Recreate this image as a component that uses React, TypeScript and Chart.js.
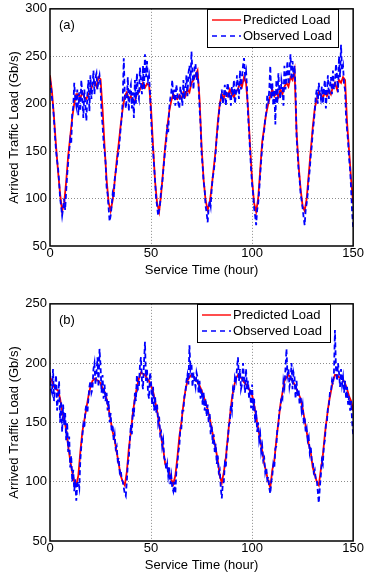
import React, { useEffect, useRef } from "react";
import { Chart, registerables } from "chart.js";

Chart.register(...registerables);

// ---------- tick labels ----------
const X_TICKS = [0, 50, 100, 150];
const Y_TICKS_A = [50, 100, 150, 200, 250, 300];
const Y_TICKS_B = [50, 100, 150, 200, 250];

// sampling interval (hours) of the two series
const PRED_STEP_HOURS = 1;
const OBS_STEP_HOURS = 0.5;

// ---------- panel (a) ----------
const PREDICTED_A = [
  230, 212, 185, 155, 128, 105, 87, 95, 118, 145,
  165, 185, 200, 210, 210, 206, 212, 207, 205, 210,
  212, 220, 223, 218, 228, 226, 195, 155, 120, 96,
  87, 98, 118, 140, 158, 178, 195, 208, 212, 205,
  208, 202, 203, 210, 212, 218, 222, 217, 221, 220,
  195, 155, 118, 95, 86, 105, 130, 155, 175, 192,
  203, 210, 207, 205, 209, 205, 212, 208, 215, 212,
  222, 225, 230, 235, 205, 155, 120, 98, 88, 95,
  112, 132, 152, 180, 200, 210, 206, 212, 208, 215,
  210, 207, 213, 215, 222, 218, 228, 222, 195, 155,
  120, 95, 86, 100, 130, 160, 175, 190, 200, 208,
  215, 208, 212, 207, 215, 210, 218, 222, 218, 228,
  225, 235, 170, 135, 110, 92, 87, 100, 125, 150,
  175, 195, 205, 212, 210, 206, 212, 208, 214, 210,
  218, 222, 215, 225, 222, 228, 225, 180, 150, 120,
  95,
];

const OBSERVED_A = [
  225, 218, 205, 198, 182, 165, 150, 140, 132, 118, 100, 92, 82, 90, 100, 88, 108, 125, 138, 150,
  162, 158, 190, 196, 222, 205, 198, 215, 188, 212, 192, 225, 208, 185, 215, 198, 182, 210, 225, 192,
  230, 205, 218, 235, 210, 228, 232, 215, 225, 230, 218, 190, 178, 160, 150, 138, 112, 105, 90, 76,
  82, 92, 105, 100, 120, 128, 135, 145, 150, 162, 175, 185, 205, 248, 210, 195, 205, 228, 192, 215,
  220, 195, 212, 185, 225, 200, 232, 210, 205, 238, 222, 210, 240, 215, 252, 228, 245, 225, 230, 212,
  185, 165, 150, 135, 118, 100, 92, 82, 88, 95, 110, 115, 128, 140, 152, 160, 178, 170, 195, 205,
  212, 225, 205, 215, 198, 220, 212, 200, 195, 218, 210, 198, 225, 205, 215, 230, 208, 232, 240, 218,
  255, 232, 215, 238, 242, 225, 230, 220, 195, 178, 148, 135, 118, 110, 92, 85, 75, 90, 98, 92,
  110, 122, 128, 138, 150, 165, 175, 188, 198, 205, 215, 200, 208, 220, 198, 215, 222, 205, 212, 198,
  218, 208, 225, 200, 210, 230, 218, 205, 235, 215, 228, 240, 248, 230, 235, 215, 188, 170, 150, 130,
  115, 105, 90, 82, 72, 88, 95, 108, 125, 140, 155, 165, 172, 185, 190, 210, 200, 215, 240, 205,
  222, 198, 215, 178, 225, 200, 232, 212, 205, 225, 218, 198, 240, 215, 230, 245, 220, 235, 252, 225,
  245, 228, 240, 215, 165, 148, 130, 120, 105, 98, 90, 80, 72, 88, 95, 105, 120, 130, 145, 155,
  170, 180, 192, 208, 215, 200, 222, 210, 205, 218, 200, 215, 225, 195, 212, 230, 205, 218, 228, 210,
  235, 215, 220, 242, 230, 212, 250, 228, 262, 235, 240, 220, 215, 185, 172, 160, 142, 130, 110, 85,
  70,
];

// ---------- panel (b) ----------
const PREDICTED_B = [
  188, 185, 180, 178, 177, 170, 160, 152, 144, 130,
  118, 108, 100, 97, 105, 125, 142, 152, 162, 172,
  180, 185, 187, 186, 185, 183, 179, 176, 170, 162,
  152, 142, 135, 125, 115, 105, 100, 97, 108, 128,
  142, 158, 170, 180, 187, 192, 191, 190, 187, 185,
  181, 176, 168, 160, 148, 138, 128, 115, 112, 108,
  102, 98, 105, 120, 138, 150, 165, 177, 185, 188,
  190, 189, 186, 184, 181, 177, 172, 167, 161, 154,
  145, 136, 128, 118, 105, 99, 108, 120, 138, 155,
  170, 180, 187, 190, 188, 187, 184, 182, 180, 176,
  173, 165, 155, 145, 135, 126, 115, 108, 100, 95,
  110, 118, 135, 150, 165, 175, 185, 188, 190, 188,
  185, 182, 178, 174, 170, 162, 152, 142, 132, 125,
  112, 106, 100, 97, 110, 122, 140, 154, 167, 176,
  185, 190, 190, 188, 188, 186, 183, 178, 172, 168,
  160,
];

const OBSERVED_B = [
  192, 178, 175, 195, 168, 182, 190, 160, 172, 185, 150, 168, 142, 165, 148, 158, 135, 150, 125, 138,
  112, 122, 100, 110, 92, 102, 84, 98, 100, 95, 118, 130, 138, 148, 145, 160, 165, 158, 170, 180,
  185, 175, 178, 195, 200, 182, 192, 205, 180, 212, 198, 175, 190, 170, 182, 168, 175, 160, 168, 150,
  158, 142, 148, 135, 140, 128, 130, 118, 120, 108, 110, 102, 100, 95, 90, 88, 100, 115, 120, 135,
  148, 140, 162, 155, 175, 168, 190, 178, 180, 198, 205, 185, 178, 200, 218, 185, 195, 175, 170, 192,
  185, 165, 180, 160, 172, 158, 165, 150, 155, 140, 142, 130, 135, 120, 118, 110, 115, 105, 112, 98,
  105, 95, 92, 100, 90, 108, 115, 125, 130, 145, 145, 160, 160, 172, 175, 185, 190, 182, 215, 195,
  200, 180, 192, 185, 180, 192, 188, 175, 185, 170, 178, 165, 175, 160, 170, 155, 165, 150, 158, 140,
  148, 132, 140, 125, 132, 115, 122, 108, 110, 95, 86, 98, 100, 115, 112, 130, 135, 148, 150, 165,
  160, 178, 175, 188, 185, 195, 205, 185, 195, 178, 182, 200, 188, 175, 195, 178, 185, 170, 178, 162,
  182, 160, 170, 150, 160, 142, 150, 135, 140, 125, 130, 118, 120, 108, 112, 102, 104, 95, 90, 100,
  105, 115, 112, 128, 130, 145, 148, 160, 162, 172, 170, 185, 180, 195, 212, 190, 195, 180, 185, 200,
  178, 192, 188, 170, 185, 172, 178, 165, 172, 160, 165, 152, 155, 142, 145, 135, 138, 125, 130, 118,
  118, 108, 110, 102, 102, 92, 82, 95, 105, 118, 115, 130, 135, 148, 150, 162, 165, 175, 175, 185,
  182, 192, 228, 195, 185, 200, 192, 180, 195, 182, 188, 175, 185, 170, 180, 165, 172, 160, 168, 150,
  140,
];

const FONT = '"Liberation Sans", Arial, Helvetica, sans-serif';

type LegendBox = { left: number; top: number; width: number; height: number };

const framePlugin = {
  id: "matlabFrame",
  afterDraw(chart: any, _args: any, opts: any) {
    const { ctx, chartArea: a } = chart;
    ctx.save();
    // axes box
    ctx.setLineDash([]);
    ctx.strokeStyle = "#000";
    ctx.lineWidth = 1.5;
    ctx.strokeRect(a.left, a.top, a.right - a.left, a.bottom - a.top);

    // panel label
    ctx.font = `13px ${FONT}`;
    ctx.fillStyle = "#000";
    ctx.textBaseline = "middle";
    ctx.textAlign = "left";
    ctx.fillText(opts.label, a.left + 9, a.top + 17);

    // legend
    const L: LegendBox = opts.legend;
    ctx.fillStyle = "#fff";
    ctx.fillRect(L.left, L.top, L.width, L.height);
    ctx.lineWidth = 1;
    ctx.strokeStyle = "#000";
    ctx.strokeRect(L.left + 0.5, L.top + 0.5, L.width, L.height);

    const rows = [
      { text: "Predicted Load", color: "#ff0000", dash: [] as number[] },
      { text: "Observed Load", color: "#0000ff", dash: [5, 4] },
    ];
    rows.forEach((r, i) => {
      const y = L.top + 11 + i * 16;
      ctx.beginPath();
      ctx.setLineDash(r.dash);
      ctx.strokeStyle = r.color;
      ctx.lineWidth = 1.4;
      ctx.moveTo(L.left + 5, y);
      ctx.lineTo(L.left + 34, y);
      ctx.stroke();
      ctx.setLineDash([]);
      ctx.fillStyle = "#000";
      ctx.font = `13px ${FONT}`;
      ctx.textAlign = "left";
      ctx.textBaseline = "middle";
      ctx.fillText(r.text, L.left + 36, y);
    });
    ctx.restore();
  },
};

function makeConfig(
  pred: number[],
  obs: number[],
  yTicks: number[],
  label: string,
  legend: LegendBox
): any {
  const yMin = yTicks[0];
  const yMax = yTicks[yTicks.length - 1];
  const xMin = X_TICKS[0];
  const xMax = X_TICKS[X_TICKS.length - 1];
  const gridColor = (min: number, max: number) => (ctx: any) => {
    const v = ctx.tick ? ctx.tick.value : null;
    return v === min || v === max ? "rgba(0,0,0,0)" : "#8c8c8c";
  };
  const tickFont = { family: FONT, size: 13, lineHeight: 0.9 };
  const titleFont = { family: FONT, size: 13, lineHeight: 1.2 };
  return {
    type: "line",
    data: {
      datasets: [
        {
          label: "Observed Load",
          data: obs.map((y, i) => ({ x: i * OBS_STEP_HOURS, y })),
          borderColor: "#0000ff",
          borderWidth: 1.8,
          borderDash: [5, 3],
          pointRadius: 0,
          tension: 0,
          fill: false,
          order: 0,
        },
        {
          label: "Predicted Load",
          data: pred.map((y, i) => ({ x: i * PRED_STEP_HOURS, y })),
          borderColor: "#ff0000",
          borderWidth: 1.8,
          pointRadius: 0,
          tension: 0,
          fill: false,
          order: 1,
        },
      ],
    },
    options: {
      responsive: false,
      animation: false,
      devicePixelRatio: 1,
      events: [],
      layout: { padding: { top: 6, right: 12, bottom: 0, left: 0 } },
      plugins: {
        legend: { display: false },
        tooltip: { enabled: false },
        matlabFrame: { label, legend },
      },
      scales: {
        x: {
          type: "linear",
          min: xMin,
          max: xMax,
          afterBuildTicks: (s: any) => {
            s.ticks = X_TICKS.map((v) => ({ value: v }));
          },
          afterFit: (s: any) => {
            s.height = 34;
          },
          ticks: {
            font: tickFont,
            color: "#000",
            padding: 2,
            maxRotation: 0,
            autoSkip: false,
          },
          grid: { color: gridColor(xMin, xMax), drawTicks: false, lineWidth: 1 },
          border: { display: false, dash: [1, 2] },
          title: {
            display: true,
            text: "Service Time (hour)",
            font: titleFont,
            color: "#000",
            padding: { top: 0, bottom: 2 },
          },
        },
        y: {
          type: "linear",
          min: yMin,
          max: yMax,
          afterBuildTicks: (s: any) => {
            s.ticks = yTicks.map((v) => ({ value: v }));
          },
          afterFit: (s: any) => {
            s.width = 50;
          },
          ticks: { font: tickFont, color: "#000", padding: 3, autoSkip: false },
          grid: { color: gridColor(yMin, yMax), drawTicks: false, lineWidth: 1 },
          border: { display: false, dash: [1, 2] },
          title: {
            display: true,
            text: "Arrived Traffic Load (Gb/s)",
            font: titleFont,
            color: "#000",
            padding: { top: 7, bottom: 0 },
          },
        },
      },
    },
    plugins: [framePlugin],
  };
}

function Panel(props: {
  top: number;
  pred: number[];
  obs: number[];
  yTicks: number[];
  label: string;
  legend: LegendBox;
}) {
  const ref = useRef<HTMLCanvasElement>(null);
  useEffect(() => {
    if (!ref.current) return;
    const chart = new Chart(
      ref.current,
      makeConfig(props.pred, props.obs, props.yTicks, props.label, props.legend)
    );
    return () => chart.destroy();
  }, []);
  return (
    <canvas
      ref={ref}
      width={366}
      height={280}
      style={{ position: "absolute", left: 0, top: props.top, width: 366, height: 280, display: "block" }}
    />
  );
}

export default function App() {
  return (
    <div
      style={{
        position: "absolute",
        left: 0,
        top: 0,
        width: 366,
        height: 576,
        overflow: "hidden",
        background: "#fff",
      }}
    >
      <Panel
        top={0}
        pred={PREDICTED_A}
        obs={OBSERVED_A}
        yTicks={Y_TICKS_A}
        label="(a)"
        legend={{ left: 207, top: 9, width: 131, height: 38 }}
      />
      <Panel
        top={295}
        pred={PREDICTED_B}
        obs={OBSERVED_B}
        yTicks={Y_TICKS_B}
        label="(b)"
        legend={{ left: 197, top: 9, width: 133, height: 38 }}
      />
    </div>
  );
}
